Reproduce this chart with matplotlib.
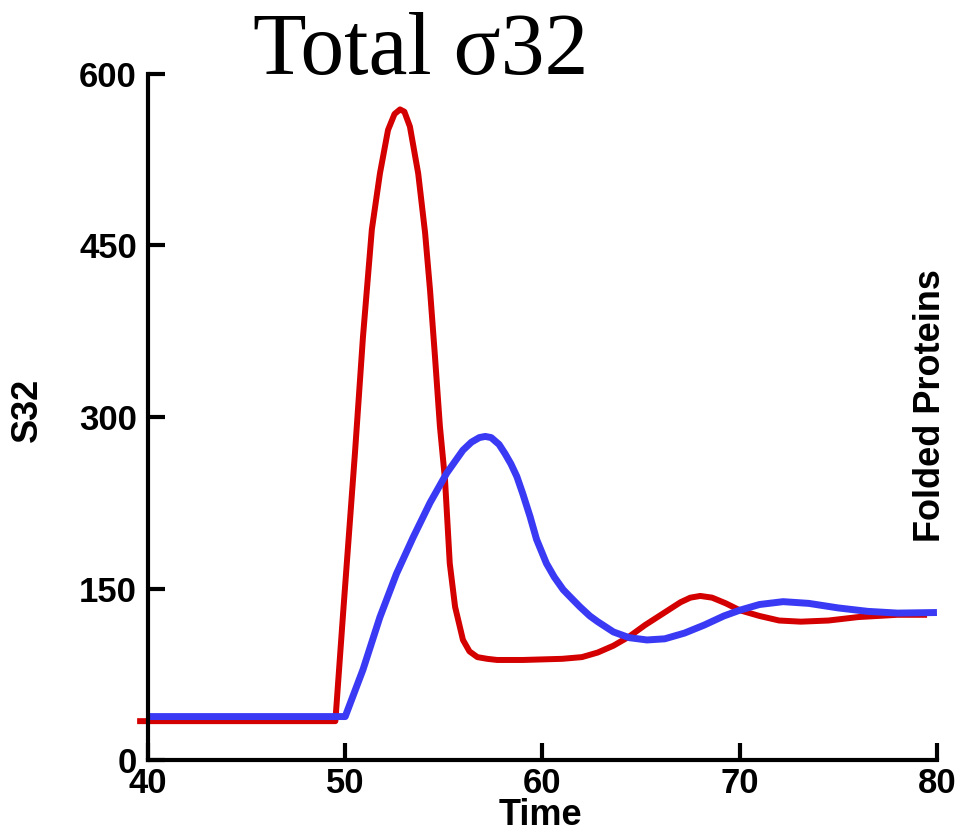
import matplotlib
matplotlib.use('Agg')
import matplotlib.pyplot as plt

plt.rcParams['font.family'] = 'Liberation Sans'
plt.rcParams['font.weight'] = 'bold'

# Значения
red_t = [39.45, 49.5, 49.9, 50.5, 50.9, 51.35, 51.76, 52.17, 52.5, 52.78,
         53.0, 53.28, 53.7, 54.05, 54.3, 54.55, 54.8, 55.06, 55.3, 55.57, 55.97, 56.3,
         56.7, 57.2, 57.7, 59.0, 60.0, 61.0, 62.0, 62.8, 63.6, 64.4, 65.2, 66.1,
         67.0, 67.5, 68.0, 68.6, 69.3, 70.0, 71.0, 72.0, 73.1, 74.5, 76.0, 78.0, 79.5]
red_v = [34, 34, 130, 270, 370, 464, 513, 551, 565, 569,
         567, 554, 513, 461, 411, 353, 292, 245, 172, 134, 105, 95,
         90, 88.5, 87.5, 87.5, 88, 88.5, 90, 94, 100, 108, 118, 128,
         138, 142, 143.5, 142, 137, 131, 126, 122, 121, 122, 125, 127, 127]

blue_t = [40, 50.0, 50.9, 51.76, 52.6, 53.45, 54.3, 55.15, 55.6, 55.97, 56.4, 56.8,
          57.1, 57.4, 57.8, 58.1, 58.4, 58.7, 59.0, 59.37, 59.7, 60.2, 60.6,
          61.05, 61.5, 61.9, 62.4, 62.8, 63.6, 64.4, 65.3, 66.2, 67.2, 68.2, 69.2,
          70.0, 71.0, 72.2, 73.5, 75.0, 76.5, 78.0, 80.0]
blue_v = [38, 38, 79, 125, 163, 195, 225, 251, 262, 271, 278, 282,
          283, 282, 276, 268, 259, 248, 233, 213, 193, 172, 160,
          149, 141, 134, 126, 121, 112, 107, 105, 106, 111, 118, 126,
          131, 136, 138.5, 137, 133, 130, 128.5, 129]

x_ticks = [40, 50, 60, 70, 80]
y_ticks = [0, 150, 300, 450, 600]

fig = plt.figure(figsize=(9.59, 8.35), dpi=100)
ax = fig.add_axes([0.1543, 0.0898, 0.8227, 0.8216])

ax.plot(red_t, red_v, color='#d40000', lw=4.3, clip_on=False,
        solid_capstyle='butt', solid_joinstyle='round')
ax.plot(blue_t, blue_v, color='#3a3af5', lw=5,
        solid_capstyle='butt', solid_joinstyle='round')

ax.set_xlim(40, 80)
ax.set_ylim(0, 600)
ax.set_xticks(x_ticks)
ax.set_yticks(y_ticks)

for s in ['top', 'right']:
    ax.spines[s].set_visible(False)
for s in ['left', 'bottom']:
    ax.spines[s].set_linewidth(3)

ax.tick_params(direction='in', length=12, width=3, labelsize=25)
ax.tick_params(axis='x', pad=5)
ax.tick_params(axis='y', pad=8)

ax.set_xlabel('Time', fontsize=26, fontweight='bold')
ax.xaxis.set_label_coords(0.497, -0.055)
ax.set_ylabel('S32', fontsize=26, fontweight='bold')
ax.yaxis.set_label_coords(-0.131, 0.51)

fig.text(0.439, 0.911, 'Total σ32', family='Liberation Serif', fontweight='normal',
         fontsize=63, ha='center', va='baseline')
fig.text(930 / 959, 1 - 406 / 835, 'Folded Proteins', fontsize=26, fontweight='bold',
         rotation=90, ha='center', va='center')

plt.savefig('out.png', dpi=100)
